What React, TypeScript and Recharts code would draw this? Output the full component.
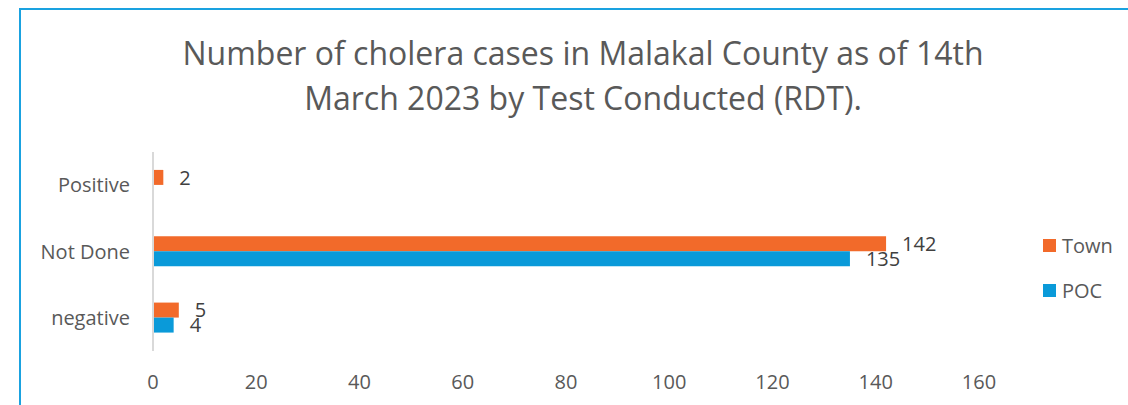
import { Bar, BarChart, XAxis, YAxis, LabelList } from "recharts"

// categories top to bottom, as in the source chart
const categories = ["Positive", "Not Done", "negative"]
const townCases = [2, 142, 5]
const pocCases = [0, 135, 4]
const xTicks = [0, 20, 40, 60, 80, 100, 120, 140, 160]

const FONT = "'Open Sans', sans-serif"
const TEXT = "#595959"
const TOWN = "#f26a2a"
const POC = "#0a9ad9"

const legendItems = [
  { name: "Town", color: TOWN },
  { name: "POC", color: POC },
]

export default function App() {
  const chartData = categories.map((name, i) => ({
    name,
    Town: townCases[i],
    POC: pocCases[i],
  }))

  // hide zero labels (Positive has no POC cases)
  const hideZero = (v: any) => (Number(v) === 0 ? "" : v)

  return (
    <div style={{ position: "fixed", left: 0, top: 0, width: 1128, height: 405, background: "#fff", overflow: "hidden", fontFamily: FONT }}>
      <div
        style={{
          position: "absolute",
          left: 19,
          top: 8,
          width: 1200,
          height: 500,
          borderTop: "2px solid #1aa2e0",
          borderLeft: "2px solid #1aa2e0",
        }}
      />
      <div
        style={{
          position: "absolute",
          left: 0,
          top: 30,
          width: 1166,
          textAlign: "center",
          fontSize: 32,
          lineHeight: "45px",
          color: TEXT,
        }}
      >
        Number of cholera cases in Malakal County as of 14th
        <br />
        March 2023 by Test Conducted (RDT).
      </div>

      <div style={{ position: "absolute", left: 0, top: 0 }}>
        <BarChart
          width={1128}
          height={405}
          data={chartData}
          layout="vertical"
          margin={{ top: 152, right: 149, left: 0, bottom: 14 }}
          barCategoryGap="27%"
          barGap={0}
        >
          <XAxis
            type="number"
            domain={[0, 160]}
            ticks={xTicks}
            axisLine={false}
            tickLine={false}
            tick={{ fontSize: 20, fill: TEXT, fontFamily: FONT }}
            tickMargin={18}
            height={40}
          />
          <YAxis
            type="category"
            dataKey="name"
            width={153}
            axisLine={{ stroke: "#d9d9d9", strokeWidth: 2 }}
            tickLine={false}
            tick={{ fontSize: 20, fill: TEXT, fontFamily: FONT }}
            tickMargin={17}
          />
          <Bar dataKey="Town" fill={TOWN} isAnimationActive={false}>
            <LabelList dataKey="Town" position="right" offset={16} formatter={hideZero} style={{ fontSize: 20, fill: "#404040", fontFamily: FONT }} />
          </Bar>
          <Bar dataKey="POC" fill={POC} isAnimationActive={false}>
            <LabelList dataKey="POC" position="right" offset={16} formatter={hideZero} style={{ fontSize: 20, fill: "#404040", fontFamily: FONT }} />
          </Bar>
        </BarChart>
      </div>

      {/* legend */}
      <div style={{ position: "absolute", left: 1043, top: 223 }}>
        {legendItems.map((it) => (
          <div key={it.name} style={{ display: "flex", alignItems: "center", height: 45, fontSize: 20, color: TEXT }}>
            <span style={{ display: "inline-block", width: 13, height: 13, background: it.color, marginRight: 6 }} />
            {it.name}
          </div>
        ))}
      </div>
    </div>
  )
}
